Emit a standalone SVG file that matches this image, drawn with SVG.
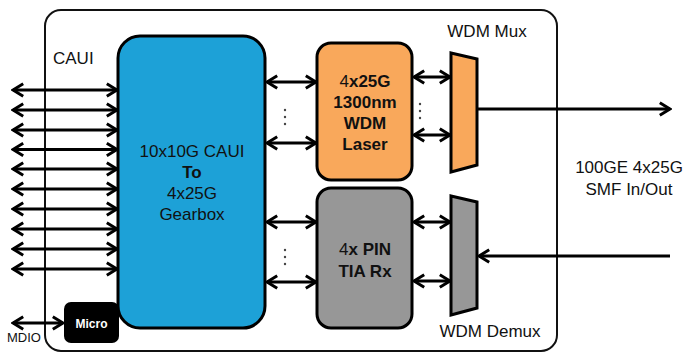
<svg xmlns="http://www.w3.org/2000/svg" width="687" height="354" viewBox="0 0 687 354">
<style>
text{font-family:"Liberation Sans",Arial,sans-serif;fill:#111}
.t17{font-size:17px}
.b{font-weight:bold}
.box{stroke:#000;stroke-width:3}
.ln{stroke:#000;stroke-width:3;fill:none}
.dot{fill:#444}
</style>
<defs>
<marker id="ah" viewBox="0 0 14 16" refX="12" refY="8" markerWidth="14" markerHeight="16" orient="auto-start-reverse" markerUnits="userSpaceOnUse">
<path d="M1.8,1.8 L12,8 L1.8,14.2" fill="none" stroke="#000" stroke-width="3" stroke-linejoin="miter"/>
</marker>
</defs>
<rect width="687" height="354" fill="#fff"/>
<g id="module">
<rect x="45" y="10" width="512" height="341" rx="16" fill="none" stroke="#111" stroke-width="2"/>
<text class="t17" x="53" y="64">CAUI</text>
</g>
<g id="connectors">
<line class="ln" x1="13" y1="90" x2="117" y2="90" marker-start="url(#ah)" marker-end="url(#ah)"/>
<line class="ln" x1="13" y1="110" x2="117" y2="110" marker-start="url(#ah)" marker-end="url(#ah)"/>
<line class="ln" x1="13" y1="130" x2="117" y2="130" marker-start="url(#ah)" marker-end="url(#ah)"/>
<line class="ln" x1="13" y1="149.5" x2="117" y2="149.5" marker-start="url(#ah)" marker-end="url(#ah)"/>
<line class="ln" x1="13" y1="169" x2="117" y2="169" marker-start="url(#ah)" marker-end="url(#ah)"/>
<line class="ln" x1="13" y1="189" x2="117" y2="189" marker-start="url(#ah)" marker-end="url(#ah)"/>
<line class="ln" x1="13" y1="209" x2="117" y2="209" marker-start="url(#ah)" marker-end="url(#ah)"/>
<line class="ln" x1="13" y1="229" x2="117" y2="229" marker-start="url(#ah)" marker-end="url(#ah)"/>
<line class="ln" x1="13" y1="249" x2="117" y2="249" marker-start="url(#ah)" marker-end="url(#ah)"/>
<line class="ln" x1="13" y1="269" x2="117" y2="269" marker-start="url(#ah)" marker-end="url(#ah)"/>
<line class="ln" x1="13" y1="323" x2="63" y2="323" marker-start="url(#ah)" marker-end="url(#ah)"/>
<line class="ln" x1="267" y1="82" x2="316" y2="82" marker-start="url(#ah)" marker-end="url(#ah)"/>
<line class="ln" x1="267" y1="143" x2="316" y2="143" marker-start="url(#ah)" marker-end="url(#ah)"/>
<line class="ln" x1="267" y1="222" x2="316" y2="222" marker-start="url(#ah)" marker-end="url(#ah)"/>
<line class="ln" x1="267" y1="282" x2="316" y2="282" marker-start="url(#ah)" marker-end="url(#ah)"/>
<line class="ln" x1="414" y1="77" x2="450" y2="77" marker-start="url(#ah)" marker-end="url(#ah)"/>
<line class="ln" x1="414" y1="135" x2="450" y2="135" marker-start="url(#ah)" marker-end="url(#ah)"/>
<line class="ln" x1="414" y1="222" x2="450" y2="222" marker-start="url(#ah)" marker-end="url(#ah)"/>
<line class="ln" x1="414" y1="281" x2="450" y2="281" marker-start="url(#ah)" marker-end="url(#ah)"/>
<line class="ln" x1="478" y1="109" x2="670" y2="109" marker-end="url(#ah)"/>
<line class="ln" x1="670" y1="256" x2="479" y2="256" marker-end="url(#ah)"/>
<circle class="dot" cx="285" cy="110" r="1.2"/>
<circle class="dot" cx="285" cy="117" r="1.2"/>
<circle class="dot" cx="285" cy="124" r="1.2"/>
<circle class="dot" cx="285" cy="250" r="1.2"/>
<circle class="dot" cx="285" cy="257" r="1.2"/>
<circle class="dot" cx="285" cy="264" r="1.2"/>
<circle class="dot" cx="420" cy="104" r="1.2"/>
<circle class="dot" cx="420" cy="111" r="1.2"/>
<circle class="dot" cx="420" cy="118" r="1.2"/>
</g>
<g id="gearbox">
<rect class="box" x="118" y="36" width="147" height="292" rx="22" fill="#1DA1D7"/>
<text class="t17" x="192" y="157" text-anchor="middle" font-size="17.5">10x10G CAUI</text>
<text class="t17 b" x="192" y="178" text-anchor="middle">To</text>
<text class="t17" x="192" y="199" text-anchor="middle">4x25G</text>
<text class="t17" x="192" y="220" text-anchor="middle">Gearbox</text>
</g>
<g id="micro">
<rect x="64" y="302" width="55" height="41" rx="7" fill="#000"/>
<text x="91.5" y="327.5" text-anchor="middle" class="b" font-size="12" style="fill:#fff">Micro</text>
<text x="24" y="342" text-anchor="middle" font-size="13">MDIO</text>
</g>
<g id="laser">
<rect class="box" x="317" y="43" width="95" height="137" rx="14" fill="#F9A85B"/>
<text class="t17 b" x="365" y="87" text-anchor="middle"><tspan font-weight="normal">4</tspan>x25G</text>
<text class="t17 b" x="365" y="108" text-anchor="middle">1300nm</text>
<text class="t17 b" x="365" y="129" text-anchor="middle">WDM</text>
<text class="t17 b" x="365" y="150" text-anchor="middle">Laser</text>
</g>
<g id="receiver">
<rect class="box" x="317" y="188" width="95" height="140" rx="14" fill="#979797"/>
<text class="t17 b" x="365" y="255" text-anchor="middle"><tspan font-weight="normal">4</tspan>x PIN</text>
<text class="t17 b" x="365" y="277" text-anchor="middle">TIA Rx</text>
</g>
<g id="mux">
<polygon class="box" points="451,53 477,59 477,165 451,172" fill="#F9A85B"/>
<text class="t17" x="487" y="37" text-anchor="middle">WDM Mux</text>
</g>
<g id="demux">
<polygon class="box" points="451,196 477,202 477,308 451,315" fill="#979797"/>
<text class="t17" x="490" y="337" text-anchor="middle">WDM Demux</text>
</g>
<g id="fiber">
<text class="t17" x="629" y="173" text-anchor="middle">100GE 4x25G</text>
<text class="t17" x="629" y="195" text-anchor="middle">SMF In/Out</text>
</g>
</svg>
